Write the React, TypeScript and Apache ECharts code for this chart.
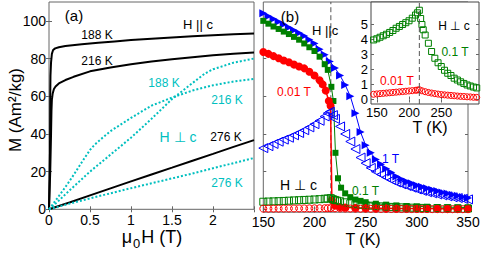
import React, { useEffect, useRef } from 'react';
import * as echarts from 'echarts';

const FONT = '"Liberation Sans", Arial, Helvetica, sans-serif';
const BLACK = '#000000';
const CYAN = '#00bfbf';
const BLUE = '#0000ff';
const GREEN = '#008000';
const RED = '#ff0000';
const AXIS = '#666666';

// ---------- Panel (a): M vs mu0H ----------
const a188cH = [0, 0.012, 0.015, 0.018, 0.025, 0.035, 0.05, 0.075, 0.12, 0.2, 0.4, 0.6, 0.8, 1.0, 1.25, 1.5, 1.75, 2.0, 2.25, 2.5];
const a188cM = [0, 30, 60, 71, 78, 82.5, 84.5, 85.4, 86, 86.6, 87.6, 88.4, 89.1, 89.8, 90.5, 91.2, 91.8, 92.4, 92.9, 93.3];
const a216cH = [0, 0.015, 0.025, 0.03, 0.035, 0.045, 0.06, 0.08, 0.12, 0.2, 0.3, 0.5, 0.75, 1.0, 1.25, 1.5, 1.75, 2.0, 2.25, 2.5];
const a216cM = [0, 20, 40, 52, 58, 61.5, 63.8, 65.2, 66.8, 68.6, 70.3, 73.2, 75.3, 77, 78.4, 79.6, 80.7, 81.7, 82.5, 83.2];
const a276cH = [0, 0.25, 0.5, 0.75, 1, 1.25, 1.5, 1.75, 2, 2.25, 2.5];
const a276cM = [0, 3.6, 7.4, 11.1, 14.8, 18.5, 22.1, 25.8, 29.4, 33.1, 36.7];
const a188pH = [0, 0.1, 0.25, 0.5, 0.75, 1, 1.25, 1.5, 1.75, 1.9, 2, 2.25, 2.5];
const a188pM = [0, 3.8, 10, 20, 29, 38, 48, 58.5, 67, 72, 74.3, 77.8, 80];
const a216pH = [0, 0.1, 0.2, 0.3, 0.4, 0.5, 0.55, 0.6, 0.75, 1, 1.25, 1.5, 1.75, 2, 2.25, 2.5];
const a216pM = [0, 5.8, 11.8, 18.2, 25, 31.5, 34, 36, 41.5, 48.5, 55, 59.3, 63, 65.8, 67.8, 69.2];
const a276pH = [0, 0.25, 0.5, 0.75, 1, 1.25, 1.5, 1.75, 2, 2.25, 2.5];
const a276pM = [0, 3, 5.8, 8.5, 11.2, 13.8, 16.4, 19, 21.8, 24.5, 27.2];

const aXLabels = [0, 0.5, 1, 1.5, 2];
const aYTicks = [0, 20, 40, 60, 80, 100];

// ---------- Panel (b): M vs T ----------
const transitionT = 216;

const b1TcT = [150, 155, 160, 165, 170, 175, 180, 185, 190, 195, 200, 205, 210, 215, 220, 225, 230, 235, 240, 245, 250, 255, 260, 265, 270, 275, 280, 285, 290, 295, 300, 305, 310, 315, 320, 325, 330, 335, 340, 345, 350];
const b1TcM = [104, 102.5, 101, 99.5, 98, 96.5, 95, 93.5, 92, 90, 88, 85, 82, 78.5, 75, 71, 66, 60, 51, 41, 34, 30, 26.5, 24, 21.5, 19.5, 17.5, 16, 14.8, 13.8, 12.8, 12, 11.2, 10.4, 9.7, 9, 8.4, 7.8, 7.2, 6.6, 6];

const b01TcT = [150, 155, 160, 165, 170, 175, 180, 185, 190, 195, 200, 205, 210, 213, 216.5, 218.5, 220.5, 223, 226, 230, 235, 240, 245, 250, 260, 270, 280, 290, 300, 310, 320, 330, 340, 350];
const b01TcM = [100, 98.5, 97, 95.7, 94.3, 93, 91.5, 90, 88, 86, 84, 81, 77, 74, 65, 57.5, 30, 16.5, 11.5, 8.5, 6.5, 5.2, 4.5, 3.8, 3, 2.5, 2.1, 1.8, 1.6, 1.4, 1.25, 1.15, 1.05, 1];

const b001TcT = [150, 155, 160, 165, 170, 175, 180, 185, 190, 195, 200, 205, 208, 211, 214, 215.7, 217, 220, 225, 230, 240, 250, 260, 270, 280, 290, 300, 310, 320, 330, 340, 350];
const b001TcM = [83.5, 82.5, 81.3, 80.2, 79, 78, 76.8, 75.8, 74.8, 73, 71, 68.5, 66.3, 63, 57.5, 55, 5, 2, 1.2, 1, 0.8, 0.7, 0.6, 0.55, 0.5, 0.45, 0.42, 0.4, 0.38, 0.36, 0.34, 0.32];

const b1TpT = [150, 155, 160, 165, 170, 175, 180, 185, 190, 195, 200, 205, 210, 213, 215, 218, 220, 225, 230, 235, 240, 245, 250, 255, 260, 265, 270, 275, 280, 285, 290, 295, 300, 305, 310, 315, 320, 325, 330, 335, 340, 345, 350];
const b1TpM = [32.5, 33.5, 34.7, 35.9, 37, 38, 39.3, 40.5, 42, 43.5, 45.2, 47, 49.3, 51, 51.8, 50, 48, 44, 40, 36, 32, 27.5, 24.5, 22, 20, 18.5, 17, 15.6, 14.3, 13.3, 12.4, 11.5, 10.6, 9.8, 9.1, 8.5, 7.9, 7.4, 6.9, 6.4, 6, 5.6, 5.3];

const b01TpT = [145, 150, 155, 160, 165, 170, 175, 180, 185, 190, 195, 200, 205, 210, 213, 216, 218, 220, 222, 225, 230, 235, 240, 245, 250, 255, 260, 265, 270, 275, 280, 285, 290, 295, 300, 305, 310, 320, 330, 340, 350];
const b01TpM = [3.97, 4.05, 4.15, 4.25, 4.35, 4.47, 4.6, 4.75, 4.87, 5.0, 5.12, 5.25, 5.42, 5.63, 5.78, 5.95, 5.4, 5.0, 4.65, 4.3, 3.75, 3.2, 2.75, 2.45, 2.2, 1.95, 1.75, 1.6, 1.42, 1.3, 1.18, 1.07, 0.97, 0.9, 0.83, 0.77, 0.72, 0.65, 0.58, 0.52, 0.47];

const b001TpT = [145, 150, 155, 160, 165, 170, 175, 180, 185, 190, 195, 200, 205, 210, 213, 216, 220, 225, 230, 235, 240, 245, 250, 255, 260, 265, 270, 275, 280, 285, 290, 295, 300, 305, 310, 315, 320, 325, 330, 335, 340, 345, 350];
const b001TpM = [0.35, 0.37, 0.39, 0.41, 0.43, 0.45, 0.47, 0.49, 0.51, 0.53, 0.55, 0.57, 0.59, 0.61, 0.63, 0.65, 0.58, 0.52, 0.47, 0.43, 0.39, 0.36, 0.33, 0.31, 0.29, 0.27, 0.25, 0.23, 0.21, 0.2, 0.18, 0.17, 0.15, 0.14, 0.13, 0.12, 0.12, 0.11, 0.1, 0.1, 0.09, 0.09, 0.08];

const bYTicks = [0, 20, 40, 60, 80, 100];
const insetXLabels = [150, 200, 250];
const insetYLabels = [0, 1, 2, 3, 4, 5];

const pairs = (xs: number[], ys: number[]) => xs.map((x, i) => [x, ys[i]]);

const labelStyle = { color: BLACK, fontSize: 14, fontFamily: FONT };

function tickAxis(extra: any) {
  return {
    type: 'value',
    axisLine: { show: false },
    splitLine: { show: false },
    axisTick: { show: true, inside: true, length: 3, lineStyle: { color: AXIS, width: 1 } },
    ...extra,
  };
}

function txt(text: string, x: number, y: number, size: number, color: string, extra: any = {}, rich?: any) {
  const style: any = {
    text,
    fill: color,
    font: `${size}px ${FONT}`,
    align: 'center',
    verticalAlign: 'middle',
    textAlign: 'center',
    textVerticalAlign: 'middle',
  };
  if (rich) style.rich = rich;
  return { type: 'text', x, y, z: 100, silent: true, ...extra, style };
}

const openItem = (c: string) => ({ color: 'rgba(255,255,255,0)', borderColor: c, borderWidth: 1 });

function buildOption() {
  const aLine = (H: number[], M: number[], color: string, dotted: boolean) => ({
    type: 'line',
    xAxisIndex: 0,
    yAxisIndex: 0,
    data: pairs(H, M),
    symbol: 'none',
    showSymbol: false,
    lineStyle: { color, width: 2, type: dotted ? [2, 2] : 'solid' },
    z: 3,
  });

  const muRich = {
    n: { fontSize: 18, fontFamily: FONT, fill: BLACK, color: BLACK, lineHeight: 18, verticalAlign: 'bottom', padding: [0, 0, 4, 0] },
    s: { fontSize: 13, fontFamily: FONT, fill: BLACK, color: BLACK, lineHeight: 18, verticalAlign: 'bottom', padding: [0, 1, 0, 1] },
  };

  return {
    animation: false,
    grid: [
      { left: 49, top: 2, width: 205, height: 207.3, show: true, borderColor: AXIS, borderWidth: 1, backgroundColor: 'transparent', z: 1 },
      { left: 263.3, top: 2, width: 204.7, height: 210.2, show: true, borderColor: AXIS, borderWidth: 1, backgroundColor: 'transparent', z: 1 },
      { left: 371, top: 2, width: 108, height: 102, show: true, borderColor: '#444', borderWidth: 1, backgroundColor: '#ffffff', z: 10 },
    ],
    xAxis: [
      tickAxis({
        gridIndex: 0, position: 'bottom', min: 0, max: 2.5, interval: 0.5,
        axisLabel: { ...labelStyle, margin: 4, customValues: aXLabels, formatter: (v: number) => String(v) },
      }),
      tickAxis({ gridIndex: 0, position: 'top', min: 0, max: 2.5, interval: 0.5, axisLabel: { show: false } }),
      tickAxis({
        gridIndex: 1, position: 'bottom', min: 150, max: 350, interval: 50,
        axisLabel: { ...labelStyle, margin: 3 },
      }),
      tickAxis({ gridIndex: 1, position: 'top', min: 150, max: 350, interval: 50, axisLabel: { show: false } }),
      tickAxis({
        gridIndex: 2, position: 'bottom', min: 141, max: 308.5, z: 11,
        axisTick: { show: true, inside: true, length: 3, lineStyle: { color: AXIS }, customValues: insetXLabels },
        axisLabel: { ...labelStyle, fontSize: 13, margin: 2, customValues: insetXLabels },
      }),
      tickAxis({
        gridIndex: 2, position: 'top', min: 141, max: 308.5, z: 11,
        axisTick: { show: true, inside: true, length: 3, lineStyle: { color: AXIS }, customValues: insetXLabels },
        axisLabel: { show: false },
      }),
    ],
    yAxis: [
      tickAxis({
        gridIndex: 0, position: 'left', min: 0, max: 110,
        axisTick: { show: true, inside: true, length: 3, lineStyle: { color: AXIS }, customValues: aYTicks },
        axisLabel: { ...labelStyle, margin: 3, customValues: aYTicks },
      }),
      tickAxis({
        gridIndex: 0, position: 'right', min: 0, max: 110,
        axisTick: { show: true, inside: true, length: 3, lineStyle: { color: AXIS }, customValues: aYTicks },
        axisLabel: { show: false },
      }),
      tickAxis({
        gridIndex: 1, position: 'left', min: -1.5, max: 110,
        axisTick: { show: true, inside: true, length: 3, lineStyle: { color: AXIS }, customValues: bYTicks },
        axisLabel: { show: false },
      }),
      tickAxis({
        gridIndex: 1, position: 'right', min: -1.5, max: 110,
        axisTick: { show: true, inside: true, length: 3, lineStyle: { color: AXIS }, customValues: bYTicks },
        axisLabel: { show: false },
      }),
      tickAxis({
        gridIndex: 2, position: 'left', min: -0.3, max: 6.5, z: 11,
        axisTick: { show: true, inside: true, length: 3, lineStyle: { color: AXIS }, customValues: insetYLabels },
        axisLabel: { ...labelStyle, fontSize: 13, margin: 3, customValues: insetYLabels },
      }),
      tickAxis({
        gridIndex: 2, position: 'right', min: -0.3, max: 6.5, z: 11,
        axisTick: { show: true, inside: true, length: 3, lineStyle: { color: AXIS }, customValues: insetYLabels },
        axisLabel: { show: false },
      }),
    ],
    series: [
      // Panel (a)
      aLine(a188cH, a188cM, BLACK, false),
      aLine(a216cH, a216cM, BLACK, false),
      aLine(a276cH, a276cM, BLACK, false),
      aLine(a188pH, a188pM, CYAN, true),
      aLine(a216pH, a216pM, CYAN, true),
      aLine(a276pH, a276pM, CYAN, true),
      // Panel (b) transition marker
      {
        type: 'line', xAxisIndex: 2, yAxisIndex: 2, symbol: 'none',
        data: [[transitionT, -1.5], [transitionT, 110]],
        lineStyle: { color: '#555', width: 1, type: [5, 3] }, z: 2,
      },
      {
        type: 'line', xAxisIndex: 2, yAxisIndex: 2, data: pairs(b1TcT, b1TcM),
        symbol: 'triangle', symbolRotate: -90, symbolSize: 8,
        itemStyle: { color: BLUE }, lineStyle: { color: BLUE, width: 1 }, z: 3,
      },
      {
        type: 'line', xAxisIndex: 2, yAxisIndex: 2, data: pairs(b01TcT, b01TcM),
        symbol: 'rect', symbolSize: 6,
        itemStyle: { color: GREEN }, lineStyle: { color: GREEN, width: 1 }, z: 3,
      },
      {
        type: 'line', xAxisIndex: 2, yAxisIndex: 2, data: pairs(b001TcT, b001TcM),
        symbol: 'circle', symbolSize: 8,
        itemStyle: { color: RED }, lineStyle: { color: RED, width: 1.5 }, z: 3,
      },
      {
        type: 'line', xAxisIndex: 2, yAxisIndex: 2, data: pairs(b1TpT, b1TpM),
        symbol: 'triangle', symbolRotate: 90, symbolSize: 9,
        itemStyle: openItem(BLUE), lineStyle: { color: BLUE, width: 1, opacity: 0 }, z: 3,
      },
      {
        type: 'line', xAxisIndex: 2, yAxisIndex: 2, data: pairs(b01TpT, b01TpM),
        symbol: 'rect', symbolSize: 7,
        itemStyle: openItem(GREEN), lineStyle: { color: GREEN, width: 1, opacity: 0 }, z: 3,
      },
      {
        type: 'line', xAxisIndex: 2, yAxisIndex: 2, data: pairs(b001TpT, b001TpM),
        symbol: 'circle', symbolSize: 7,
        itemStyle: openItem(RED), lineStyle: { color: RED, width: 1, opacity: 0 }, z: 3,
      },
      // Inset
      {
        type: 'line', xAxisIndex: 4, yAxisIndex: 4, data: pairs(b01TpT, b01TpM),
        symbol: 'rect', symbolSize: 6,
        itemStyle: openItem(GREEN), lineStyle: { color: GREEN, width: 1, opacity: 0 }, z: 12,
      },
      {
        type: 'line', xAxisIndex: 4, yAxisIndex: 4, data: pairs(b001TpT, b001TpM),
        symbol: 'circle', symbolSize: 6,
        itemStyle: openItem(RED), lineStyle: { color: RED, width: 1, opacity: 0 }, z: 12,
      },
      {
        type: 'line', xAxisIndex: 4, yAxisIndex: 4, symbol: 'none',
        data: [[transitionT, -0.3], [transitionT, 6.5]],
        lineStyle: { color: '#555', width: 1, type: [5, 3] }, z: 13,
      },
    ],
    graphic: [
      // panel (a)
      txt('(a)', 74, 15, 15, BLACK),
      txt('H || c', 198, 24, 13, BLACK),
      txt('188 K', 97, 35, 12, BLACK),
      txt('216 K', 97, 61, 12, BLACK),
      txt('188 K', 164, 83, 12, CYAN),
      txt('216 K', 227, 100, 12, CYAN),
      txt('H ⊥ c', 178, 137, 14, CYAN),
      txt('276 K', 226, 137, 12, BLACK),
      txt('276 K', 227, 183, 12, CYAN),
      txt('{n|μ}{s|0}{n|H (T)}', 152, 241, 18, BLACK, {}, muRich),
      txt('M (Am²/kg)', 15, 110, 17, BLACK, { rotation: Math.PI / 2 }),
      // panel (b)
      txt('(b)', 290, 16, 15, BLACK),
      txt('H ||c', 325, 30, 13, BLACK),
      txt('0.01 T', 294, 92, 12, RED),
      txt('1 T', 390.5, 159, 12, BLUE),
      txt('0.1 T', 365.5, 190.7, 12, GREEN),
      txt('H ⊥ c', 298.5, 185, 14, BLACK),
      txt('T (K)', 363, 239.5, 16, BLACK),
      // inset
      txt('H ⊥ c', 454, 26, 12, BLACK),
      txt('0.1 T', 455, 52, 12, GREEN),
      txt('0.01 T', 397, 81, 12, RED),
      txt('T (K)', 430, 127, 16, BLACK),
    ],
  };
}

export default function App() {
  const ref = useRef<HTMLDivElement>(null);
  useEffect(() => {
    if (!ref.current) return;
    const chart = echarts.init(ref.current, null, { renderer: 'svg' });
    chart.setOption(buildOption() as any);
    return () => chart.dispose();
  }, []);
  return (
    <div
      ref={ref}
      style={{ position: 'fixed', left: 0, top: 0, width: 493, height: 253, background: '#fff' }}
    />
  );
}
